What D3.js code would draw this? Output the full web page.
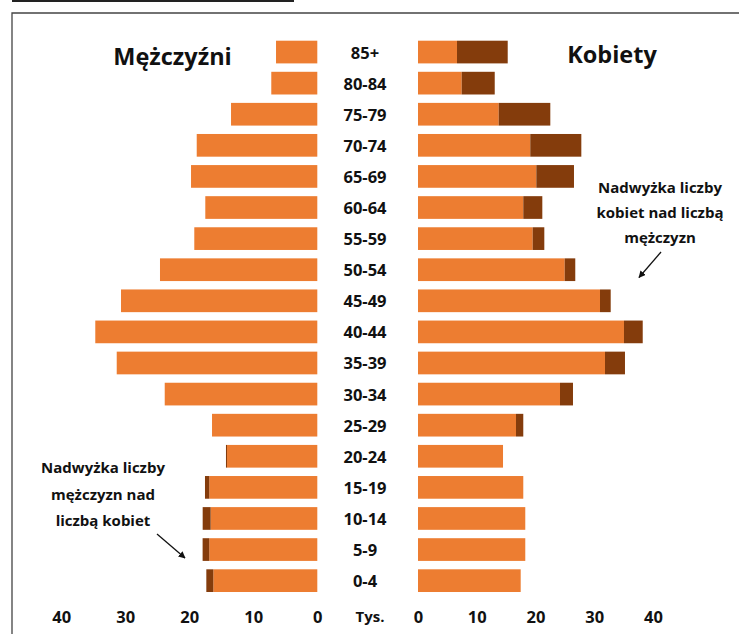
<!DOCTYPE html>
<html>
<head>
<meta charset="utf-8">
<script src="https://cdn.jsdelivr.net/npm/d3@7"></script>
<style>
  html, body { margin: 0; padding: 0; background: #fff; }
  svg { display: block; }
  text { font-family: "Open Sans", "DejaVu Sans", sans-serif; font-weight: 700; fill: #111; }
</style>
</head>
<body>
<svg id="chart" width="739" height="634"></svg>
<script>
// ---- data (thousands) ----
const ageGroups = ["85+","80-84","75-79","70-74","65-69","60-64","55-59","50-54","45-49","40-44","35-39","30-34","25-29","20-24","15-19","10-14","5-9","0-4"];
const maleBase    = [6.45, 7.19, 13.48, 18.84, 19.73, 17.5, 19.22, 24.58, 30.67, 34.69, 31.34, 23.84, 16.45, 14.1, 16.88, 16.66, 16.88, 16.25];
const maleSurplus = [0, 0, 0, 0, 0, 0, 0, 0, 0, 0, 0, 0, 0, 0.17, 0.67, 1.25, 1.04, 1.09];
const femaleBase    = [6.64, 7.44, 13.74, 19.11, 20.14, 17.92, 19.52, 24.97, 30.98, 35.06, 31.83, 24.17, 16.68, 14.47, 17.92, 18.26, 18.26, 17.48];
const femaleSurplus = [8.63, 5.62, 8.78, 8.69, 6.41, 3.24, 1.98, 1.8, 1.82, 3.19, 3.4, 2.21, 1.24, 0, 0, 0, 0, 0];
const tickValues = [0, 10, 20, 30, 40];
const unitLabel = "Tys.";
const titleMen = "Mężczyźni";
const titleWomen = "Kobiety";
const noteMen = ["Nadwyżka liczby", "mężczyzn nad", "liczbą kobiet"];
const noteWomen = ["Nadwyżka liczby", "kobiet nad liczbą", "mężczyzn"];

const ORANGE = "#ED7D31", DARK = "#843C0C";

const svg = d3.select("#chart");

// frame lines
svg.append("line").attr("x1", 12).attr("x2", 294).attr("y1", 1).attr("y2", 1)
  .attr("stroke", "#222").attr("stroke-width", 2);
svg.append("path").attr("d", "M12,634 V13 H739").attr("fill", "none")
  .attr("stroke", "#444").attr("stroke-width", 1.3);

const y = d3.scaleBand().domain(ageGroups).range([36.5, 596.2])
  .paddingInner(0.27).paddingOuter(0.135);
const xL = d3.scaleLinear().domain([0, 40]).range([317.3, 61.3]);
const xR = d3.scaleLinear().domain([0, 40]).range([418, 653]);

const rows = ageGroups.map((g, i) => ({
  g, mb: maleBase[i], ms: maleSurplus[i], fb: femaleBase[i], fs: femaleSurplus[i]
}));

// male bars
svg.append("g").selectAll("rect").data(rows).join("rect")
  .attr("x", d => xL(d.mb)).attr("y", d => y(d.g))
  .attr("width", d => xL(0) - xL(d.mb)).attr("height", y.bandwidth())
  .attr("fill", ORANGE);
svg.append("g").selectAll("rect").data(rows.filter(d => d.ms > 0)).join("rect")
  .attr("x", d => xL(d.mb + d.ms)).attr("y", d => y(d.g))
  .attr("width", d => xL(d.mb) - xL(d.mb + d.ms)).attr("height", y.bandwidth())
  .attr("fill", DARK);

// female bars
svg.append("g").selectAll("rect").data(rows).join("rect")
  .attr("x", xR(0)).attr("y", d => y(d.g))
  .attr("width", d => xR(d.fb) - xR(0)).attr("height", y.bandwidth())
  .attr("fill", ORANGE);
svg.append("g").selectAll("rect").data(rows.filter(d => d.fs > 0)).join("rect")
  .attr("x", d => xR(d.fb)).attr("y", d => y(d.g))
  .attr("width", d => xR(d.fb + d.fs) - xR(d.fb)).attr("height", y.bandwidth())
  .attr("fill", DARK);

// age labels
svg.append("g").selectAll("text").data(ageGroups).join("text")
  .attr("x", 365).attr("y", d => y(d) + y.bandwidth() / 2)
  .attr("text-anchor", "middle").attr("dominant-baseline", "central")
  .attr("font-size", 16.5).text(d => d);

// axes
function styleAxis(g) {
  g.select(".domain").remove();
  g.selectAll(".tick line").remove();
  g.selectAll(".tick text").attr("font-size", 16.5).attr("font-family", "Open Sans, sans-serif")
    .attr("font-weight", 700).attr("fill", "#111").attr("dy", 0).attr("y", 0)
    .attr("dominant-baseline", "central");
}
svg.append("g").attr("transform", "translate(0,616)")
  .call(d3.axisBottom(xL).tickValues(tickValues).tickFormat(d3.format("d")).tickSize(0))
  .call(styleAxis);
svg.append("g").attr("transform", "translate(0,616)")
  .call(d3.axisBottom(xR).tickValues(tickValues).tickFormat(d3.format("d")).tickSize(0))
  .call(styleAxis);
svg.append("text").attr("x", 370).attr("y", 616).attr("text-anchor", "middle")
  .attr("dominant-baseline", "central").attr("font-size", 15).text(unitLabel);

// titles
svg.append("text").attr("x", 172.5).attr("y", 65).attr("text-anchor", "middle")
  .attr("font-size", 23.5).text(titleMen);
svg.append("text").attr("x", 612).attr("y", 63).attr("text-anchor", "middle")
  .attr("font-size", 23.5).text(titleWomen);

// notes
svg.append("g").selectAll("text").data(noteMen).join("text")
  .attr("x", 103).attr("y", (d, i) => 467 + i * 26.5)
  .attr("text-anchor", "middle").attr("dominant-baseline", "central")
  .attr("font-size", 15).text(d => d);
svg.append("g").selectAll("text").data(noteWomen).join("text")
  .attr("x", 660).attr("y", (d, i) => 186.5 + i * 25)
  .attr("text-anchor", "middle").attr("dominant-baseline", "central")
  .attr("font-size", 15).text(d => d);

// arrows
const defs = svg.append("defs");
defs.append("marker").attr("id", "ah").attr("viewBox", "0 0 10 10")
  .attr("refX", 9).attr("refY", 5).attr("markerWidth", 7).attr("markerHeight", 7)
  .attr("markerUnits", "userSpaceOnUse").attr("orient", "auto")
  .append("path").attr("d", "M0,0 L10,5 L0,10 Z").attr("fill", "#111");
svg.append("line").attr("x1", 157).attr("y1", 534).attr("x2", 185).attr("y2", 558)
  .attr("stroke", "#111").attr("stroke-width", 1.3).attr("marker-end", "url(#ah)");
svg.append("line").attr("x1", 661).attr("y1", 252).attr("x2", 639).attr("y2", 277.5)
  .attr("stroke", "#111").attr("stroke-width", 1.3).attr("marker-end", "url(#ah)");
</script>
</body>
</html>
